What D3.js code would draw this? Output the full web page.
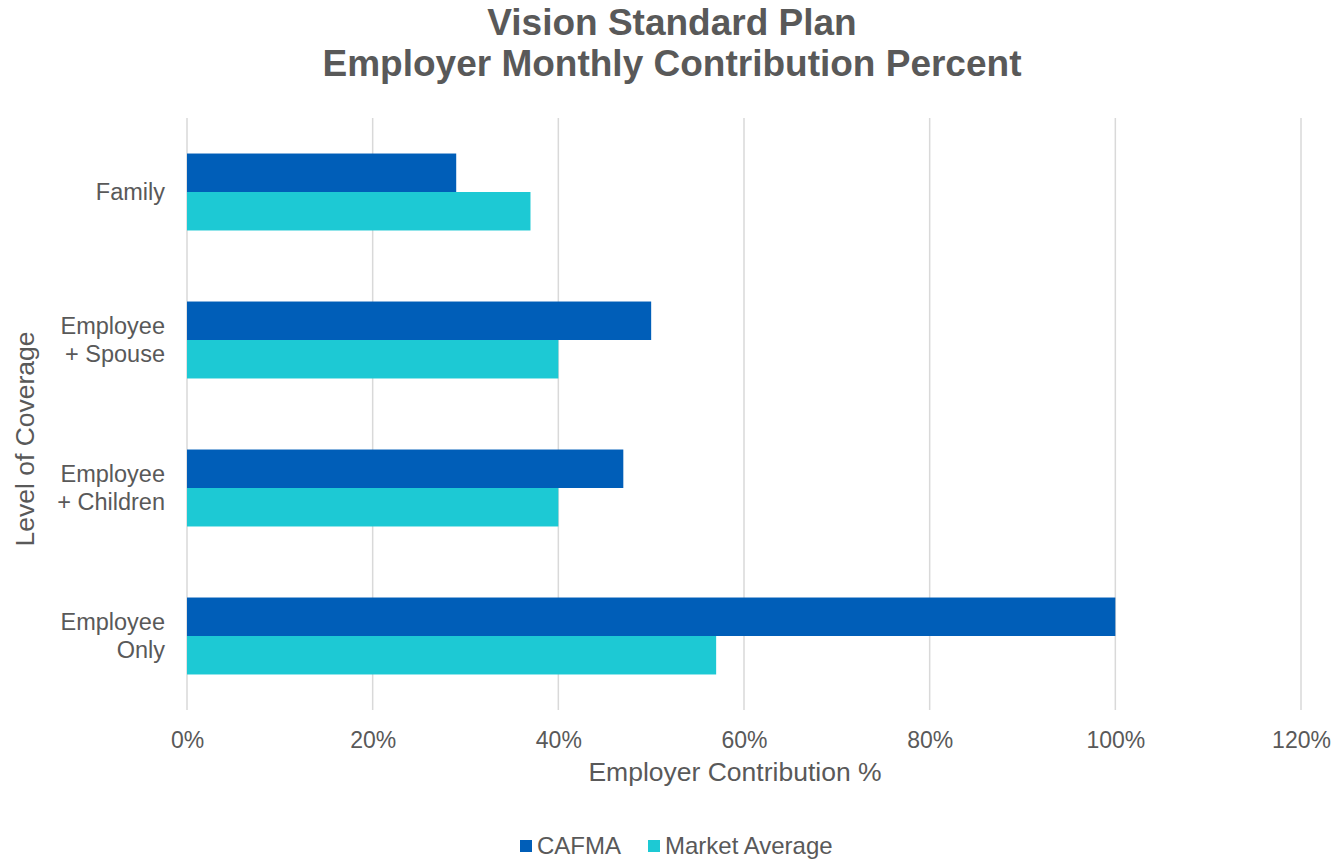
<!DOCTYPE html>
<html>
<head>
<meta charset="utf-8">
<script src="https://cdn.jsdelivr.net/npm/d3@7"></script>
<style>
  body { margin: 0; background: #fff; }
  text { font-family: "Liberation Sans", Arial, sans-serif; fill: #595959; }
</style>
</head>
<body>
<div id="chart"></div>
<script>
// chart data
var categories = ["Family", "Employee + Spouse", "Employee + Children", "Employee Only"];
var categoryLines = [["Family"], ["Employee", "+ Spouse"], ["Employee", "+ Children"], ["Employee", "Only"]];
var seriesNames = ["CAFMA", "Market Average"];
var cafma = [0.29, 0.50, 0.47, 1.00];
var marketAverage = [0.37, 0.40, 0.40, 0.57];
var xTicks = [0, 0.2, 0.4, 0.6, 0.8, 1.0, 1.2];

var W = 1337, H = 859;
var margin = {top: 118, right: 36, bottom: 149, left: 187},
    width = W - margin.left - margin.right,
    height = H - margin.top - margin.bottom;

var color = d3.scaleOrdinal()
    .domain(seriesNames)
    .range(["#005EB8", "#1DC9D4"]);

var svg = d3.select("#chart")
    .append("svg")
    .attr("width", W)
    .attr("height", H);

// title
svg.append("text")
    .attr("x", 672).attr("y", 35)
    .attr("text-anchor", "middle")
    .style("font-size", "37px").style("font-weight", "bold")
    .text("Vision Standard Plan");
svg.append("text")
    .attr("x", 672).attr("y", 76)
    .attr("text-anchor", "middle")
    .style("font-size", "37px").style("font-weight", "bold")
    .text("Employer Monthly Contribution Percent");

var g = svg.append("g")
    .attr("transform", "translate(" + margin.left + "," + margin.top + ")");

var x = d3.scaleLinear().domain([0, 1.2]).range([0, width]);

var y = d3.scaleBand()
    .domain(categories)
    .range([0, height])
    .paddingInner(0.48)
    .paddingOuter(0.24);

var ySub = d3.scaleBand()
    .domain(seriesNames)
    .range([0, y.bandwidth()]);

// gridlines
g.append("g")
    .selectAll("line")
    .data(xTicks)
    .enter()
    .append("line")
    .attr("x1", function(d) { return x(d); })
    .attr("x2", function(d) { return x(d); })
    .attr("y1", 0)
    .attr("y2", height)
    .style("stroke", "#d9d9d9")
    .style("stroke-width", 1.5);

// x axis labels
var xAxis = g.append("g")
    .attr("transform", "translate(0," + height + ")")
    .call(d3.axisBottom(x).tickValues(xTicks).tickFormat(d3.format(".0%")).tickSize(0).tickPadding(22));
xAxis.select(".domain").remove();
xAxis.selectAll("text")
    .style("font-size", "23px")
    .style("fill", "#595959")
    .style("font-family", "'Liberation Sans', Arial, sans-serif");

// bars
var rows = categories.map(function(c, i) {
    return { category: c, values: [
        { name: seriesNames[0], value: cafma[i] },
        { name: seriesNames[1], value: marketAverage[i] }
    ]};
});

var groups = g.selectAll(".cat")
    .data(rows)
    .enter()
    .append("g")
    .attr("class", "cat")
    .attr("transform", function(d) { return "translate(0," + y(d.category) + ")"; });

groups.selectAll("rect")
    .data(function(d) { return d.values; })
    .enter()
    .append("rect")
    .attr("x", x(0))
    .attr("y", function(d) { return ySub(d.name); })
    .attr("width", function(d) { return x(d.value) - x(0); })
    .attr("height", ySub.bandwidth())
    .style("fill", function(d) { return color(d.name); });

// y category labels
var yLabels = g.append("g")
    .selectAll("text")
    .data(categories)
    .enter()
    .append("text")
    .attr("text-anchor", "end")
    .attr("x", -22)
    .attr("y", function(d) { return y(d) + y.bandwidth() / 2; })
    .style("font-size", "23.5px");

yLabels.each(function(d, i) {
    var lines = categoryLines[i];
    var t = d3.select(this);
    lines.forEach(function(line, j) {
        t.append("tspan")
            .attr("x", -22)
            .attr("dy", j === 0 ? (0.35 - (lines.length - 1) * 0.6) + "em" : "1.2em")
            .text(line);
    });
});

// axis titles
svg.append("text")
    .attr("x", 735).attr("y", 781)
    .attr("text-anchor", "middle")
    .style("font-size", "26.5px")
    .text("Employer Contribution %");

svg.append("text")
    .attr("transform", "translate(34,439) rotate(-90)")
    .attr("text-anchor", "middle")
    .style("font-size", "26.5px")
    .text("Level of Coverage");

// legend
var legendX = [520, 648];
var legend = svg.append("g")
    .selectAll("g")
    .data(seriesNames)
    .enter()
    .append("g")
    .attr("transform", function(d, i) { return "translate(" + legendX[i] + ",840)"; });
legend.append("rect")
    .attr("width", 12).attr("height", 12)
    .style("fill", function(d) { return color(d); });
legend.append("text")
    .attr("x", 17).attr("y", 14)
    .style("font-size", "24px")
    .text(function(d) { return d; });
</script>
</body>
</html>
